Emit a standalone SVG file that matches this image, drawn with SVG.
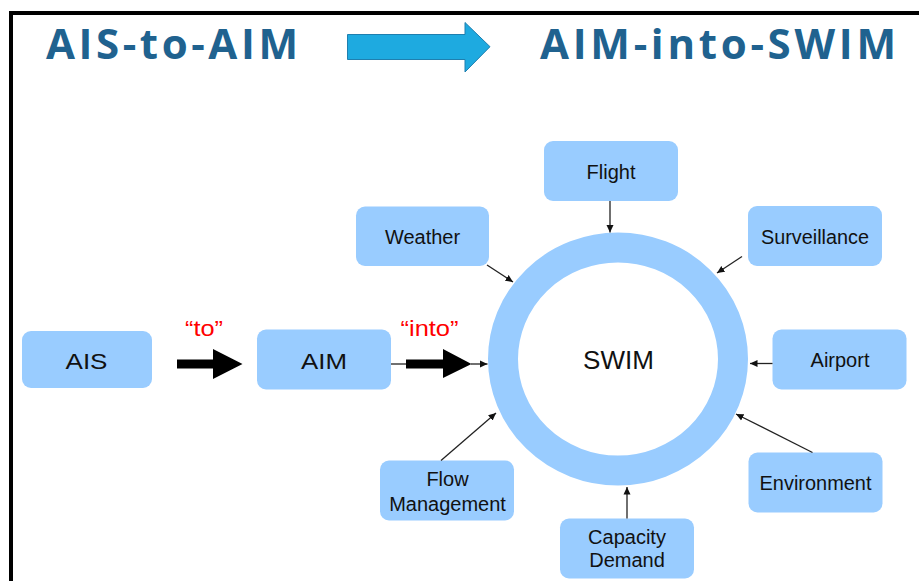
<svg xmlns="http://www.w3.org/2000/svg" width="919" height="581" viewBox="0 0 919 581">
<style>
.box{fill:#99CCFF}
.lbl{font-family:"Liberation Sans",Arial,sans-serif;font-size:20px;fill:#111;text-anchor:middle}
.big{font-family:"Liberation Sans",Arial,sans-serif;font-size:22px;fill:#111;text-anchor:middle}
.red{font-family:"Liberation Sans",Arial,sans-serif;font-size:22px;fill:#FF0000;text-anchor:middle}
.title{font-family:"Open Sans","DejaVu Sans",sans-serif;font-weight:bold;font-size:42px;fill:#20628F}
.conn{stroke:#222;stroke-width:1.3;fill:none;marker-end:url(#ah)}
</style>
<defs>
<marker id="ah" markerWidth="8" markerHeight="8" refX="7.5" refY="4" orient="auto" markerUnits="userSpaceOnUse">
<path d="M0,0.5 L7.5,4 L0,7.5 Z" fill="#111"/>
</marker>
</defs>
<rect x="0" y="0" width="919" height="581" fill="#fff"/>
<path d="M11,581 V13 H919" fill="none" stroke="#000" stroke-width="4"/>

<g id="header">
<text class="title" x="46" y="59" textLength="252" lengthAdjust="spacing">AIS-to-AIM</text>
<polygon points="347.5,34.5 465,34.5 465,22.5 490,46.7 465,72 465,59.5 347.5,59.5" fill="#1EAAE0" stroke="#1F7FAF" stroke-width="1"/>
<text class="title" x="540" y="59" textLength="356" lengthAdjust="spacing">AIM-into-SWIM</text>
</g>

<g id="swim">
<ellipse cx="618" cy="359" rx="115" ry="111.5" fill="none" stroke="#99CCFF" stroke-width="30"/>
<text x="618.5" y="369" font-family="Liberation Sans, Arial, sans-serif" font-size="26" fill="#111" text-anchor="middle">SWIM</text>
</g>

<g id="ais">
<rect class="box" x="22" y="331" width="130" height="57" rx="9"/>
<text class="big" x="86.5" y="369" textLength="42" lengthAdjust="spacingAndGlyphs">AIS</text>
</g>
<g id="aim">
<rect class="box" x="257" y="329.5" width="134" height="60" rx="9"/>
<text class="big" x="324" y="369" textLength="46" lengthAdjust="spacingAndGlyphs">AIM</text>
</g>
<g id="flight">
<rect class="box" x="544" y="141" width="134" height="60" rx="9"/>
<text class="lbl" x="611" y="178.5">Flight</text>
</g>
<g id="weather">
<rect class="box" x="356" y="206.5" width="133" height="59.5" rx="9"/>
<text class="lbl" x="422.5" y="244">Weather</text>
</g>
<g id="surveillance">
<rect class="box" x="748" y="206" width="134" height="60" rx="9"/>
<text class="lbl" x="815" y="244" textLength="108" lengthAdjust="spacingAndGlyphs">Surveillance</text>
</g>
<g id="airport">
<rect class="box" x="772.5" y="329.5" width="134" height="60" rx="9"/>
<text class="lbl" x="840" y="366.5">Airport</text>
</g>
<g id="environment">
<rect class="box" x="748.5" y="452.5" width="134" height="60" rx="9"/>
<text class="lbl" x="815.5" y="490" textLength="112" lengthAdjust="spacingAndGlyphs">Environment</text>
</g>
<g id="flow">
<rect class="box" x="380" y="460.5" width="134" height="60" rx="9"/>
<text class="lbl" x="447.5" y="485.5">Flow</text>
<text class="lbl" x="447.5" y="510.5">Management</text>
</g>
<g id="capacity">
<rect class="box" x="560" y="518.5" width="134" height="60" rx="9"/>
<text class="lbl" x="627" y="544">Capacity</text>
<text class="lbl" x="627" y="566.5">Demand</text>
</g>

<g id="connectors">
<polygon points="177,359.5 213,359.5 213,349 242.5,364 213,379 213,368.5 177,368.5" fill="#000"/>
<text class="red" x="204" y="336" textLength="38" lengthAdjust="spacingAndGlyphs">“to”</text>
<line x1="391" y1="364" x2="406" y2="364" stroke="#222" stroke-width="1.3"/>
<polygon points="406,359.5 443,359.5 443,349 471.5,364 443,378 443,368.5 406,368.5" fill="#000"/>
<text class="red" x="429.5" y="336" textLength="58" lengthAdjust="spacingAndGlyphs">“into”</text>
<line class="conn" x1="471" y1="364" x2="487.5" y2="364"/>
<line class="conn" x1="610" y1="201" x2="610" y2="232.5"/>
<line class="conn" x1="487" y1="265" x2="513" y2="282"/>
<line class="conn" x1="742" y1="256.5" x2="717" y2="273"/>
<line class="conn" x1="772.5" y1="363.5" x2="750" y2="363.5"/>
<line class="conn" x1="812.5" y1="452.5" x2="736" y2="414"/>
<line class="conn" x1="441" y1="460.5" x2="496" y2="413"/>
<line class="conn" x1="627" y1="518.5" x2="627" y2="487"/>
</g>
</svg>
